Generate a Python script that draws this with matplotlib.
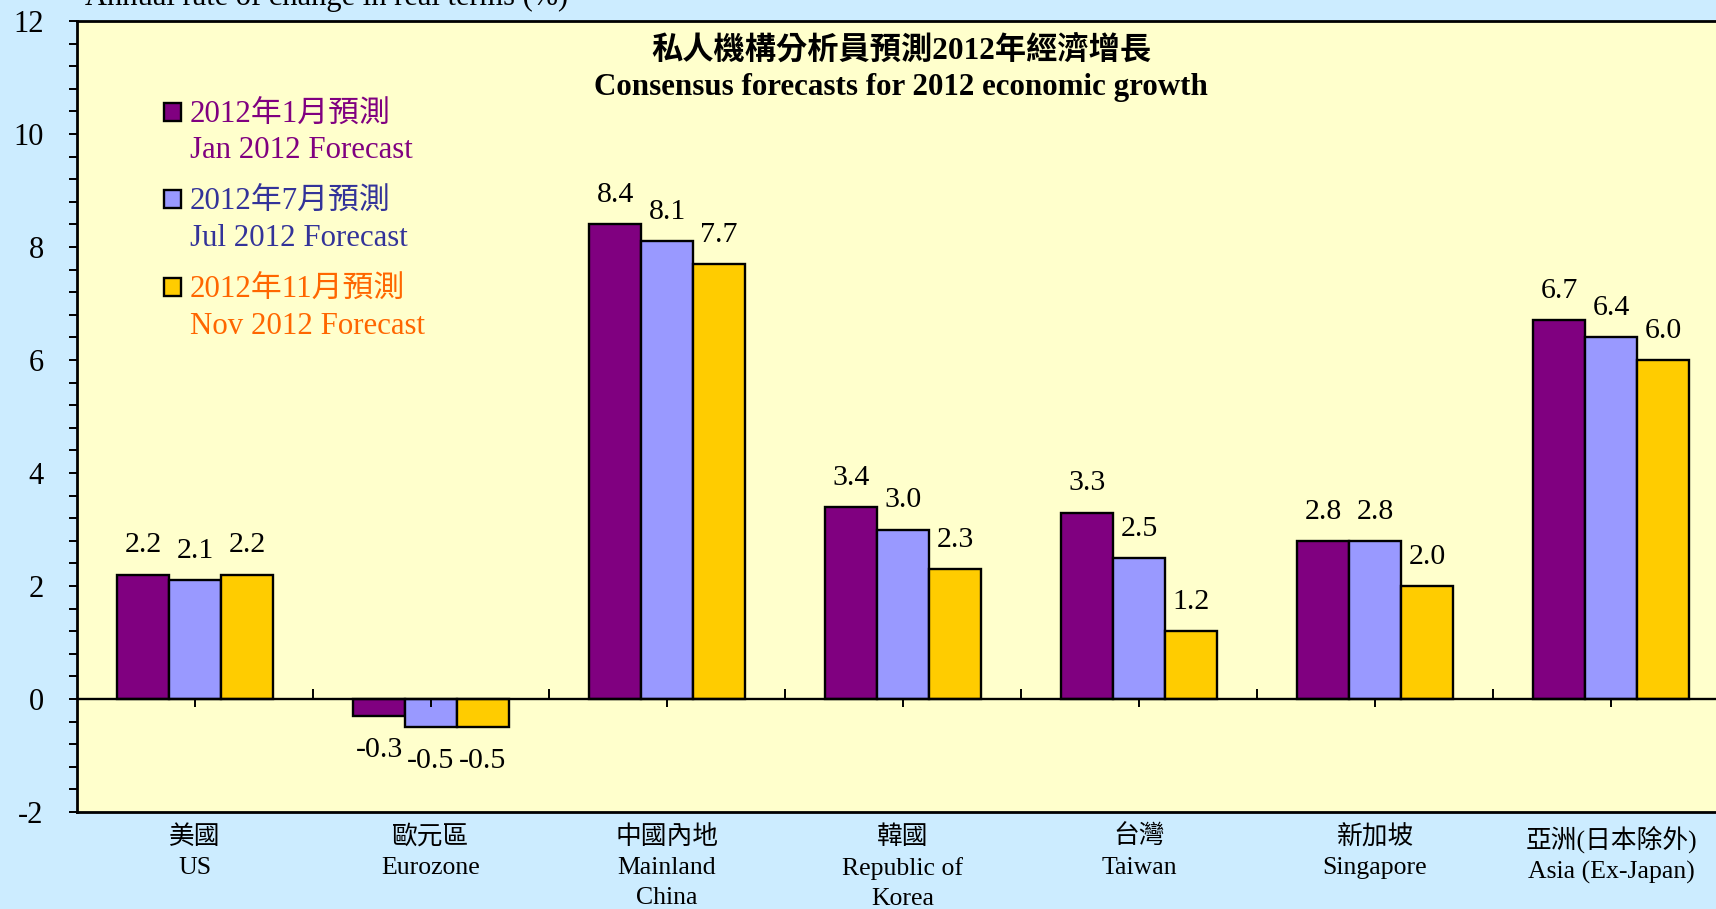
import matplotlib
matplotlib.use('Agg')
import numpy as np
import matplotlib.pyplot as plt
from matplotlib.patches import Rectangle
from matplotlib.ticker import MultipleLocator

# ---------------- data ----------------
categories_zh = ['美國', '歐元區', '中國內地', '韓國', '台灣', '新加坡', '亞洲(日本除外)']
categories_en = ['US', 'Eurozone', 'Mainland\nChina', 'Republic of\nKorea', 'Taiwan',
                 'Singapore', 'Asia (Ex-Japan)']
jan_2012 = [2.2, -0.3, 8.4, 3.4, 3.3, 2.8, 6.7]
jul_2012 = [2.1, -0.5, 8.1, 3.0, 2.5, 2.8, 6.4]
nov_2012 = [2.2, -0.5, 7.7, 2.3, 1.2, 2.0, 6.0]
series_zh = ['2012年1月預測', '2012年7月預測', '2012年11月預測']
series_en = ['Jan 2012 Forecast', 'Jul 2012 Forecast', 'Nov 2012 Forecast']
yticks = [-2, 0, 2, 4, 6, 8, 10, 12]

# ---------------- style ----------------
bar_colors = ['#800080', '#9999FF', '#FFCC00']
legend_text_colors = ['#800080', '#333399', '#FF6600']
FIG_BG = '#CCECFF'
AX_BG = '#FFFFCC'
SERIF = ['Liberation Serif', 'Noto Sans CJK TC']

W, H = 1716, 909
fig = plt.figure(figsize=(W / 100, H / 100), dpi=100, facecolor=FIG_BG)
ax = fig.add_axes([77 / W, (H - 812) / H, (1729 - 77) / W, (812 - 21) / H])
ax.set_facecolor(AX_BG)

x = np.arange(len(categories_zh))
width = 0.22
all_series = [jan_2012, jul_2012, nov_2012]
for i, vals in enumerate(all_series):
    pos = x + (i - 1) * width
    ax.bar(pos, vals, width, color=bar_colors[i], edgecolor='black', linewidth=1.7, zorder=3)
    for px, v in zip(pos, vals):
        if v >= 0:
            ax.annotate(f'{v:.1f}', (px, v), xytext=(0, 16), textcoords='offset points',
                        ha='center', va='baseline', fontsize=21.5, family=SERIF, zorder=5)
        else:
            ax.annotate(f'{v:.1f}', (px, v), xytext=(0, -15), textcoords='offset points',
                        ha='center', va='top', fontsize=21.5, family=SERIF, zorder=5)

ax.set_xlim(-0.5, len(x) - 0.5)
ax.set_ylim(-2, 12)

# zero line and category tick marks on it
ax.axhline(0, color='black', lw=1.7, zorder=4)
ax.plot(x[:-1] + 0.5, np.zeros(len(x) - 1), ls='none', marker=2, ms=7, mew=1.4,
        color='black', zorder=4)
ax.plot(x, np.zeros(len(x)), ls='none', marker=3, ms=6, mew=1.4, color='black', zorder=4)

# axes
ax.set_xticks(x)
ax.set_xticklabels([zh + '\n' + en for zh, en in zip(categories_zh, categories_en)],
                   fontsize=18.5, family=SERIF, linespacing=1.46)
ax.tick_params(axis='x', length=0, pad=9.5)
ax.set_yticks(yticks)
ax.set_yticklabels([str(t) for t in yticks], fontsize=22, family=SERIF)
ax.yaxis.set_minor_locator(MultipleLocator(0.4))
ax.tick_params(axis='y', which='both', direction='out', length=6, width=1.4, pad=18)
for s in ['left', 'top', 'bottom']:
    ax.spines[s].set_linewidth(2)
ax.spines['right'].set_visible(False)

# titles
fig.text(85 / W, 1 - 5 / H, 'Annual rate of change in real terms (%)', ha='left',
         va='baseline', fontsize=22, family=SERIF)
fig.text(901 / W, 1 - 50 / H, '私人機構分析員預測2012年經濟增長', ha='center', va='center',
         fontsize=22.5, fontweight='bold', family=SERIF)
fig.text(901 / W, 1 - 88 / H, 'Consensus forecasts for 2012 economic growth', ha='center',
         va='center', fontsize=22.3, fontweight='bold', family=SERIF)

# legend (manual)
row_y = [(115, 151), (202, 238), (290, 327)]
for i in range(3):
    y1, y2 = row_y[i]
    fig.add_artist(Rectangle((164 / W, 1 - (y1 - 3 + 8.5) / H), 17 / W, 17 / H,
                             transform=fig.transFigure, facecolor=bar_colors[i],
                             edgecolor='black', linewidth=1.7))
    fig.text(190 / W, 1 - y1 / H, series_zh[i], ha='left', va='center', fontsize=22.2,
             family=SERIF, color=legend_text_colors[i])
    fig.text(190 / W, 1 - y2 / H, series_en[i], ha='left', va='center', fontsize=22.2,
             family=SERIF, color=legend_text_colors[i])

fig.savefig('out.png', dpi=100, facecolor=FIG_BG)
